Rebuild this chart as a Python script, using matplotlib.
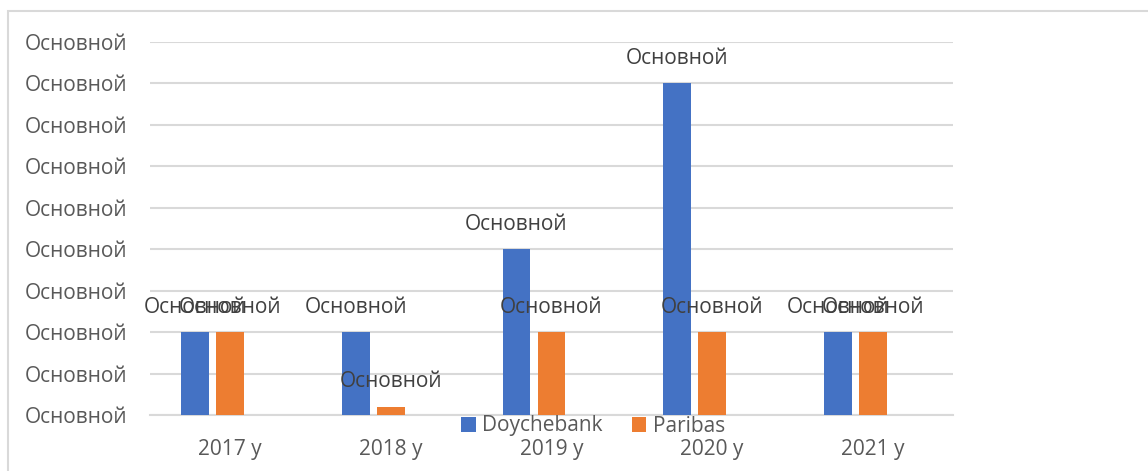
import matplotlib.pyplot as plt
import numpy as np
from matplotlib.patches import Rectangle

# data (y tick labels are all the same broken format string)
years = ["2017 у", "2018 у", "2019 у", "2020 у", "2021 у"]
doychebank = [2, 2, 4, 8, 2]
paribas = [2, 0.2, 2, 2, 2]
y_ticks = list(range(10))
tick_label = "Основной"

blue = "#4472C4"
orange = "#ED7D31"
grey_text = "#595959"

plt.rcParams['font.family'] = ['Open Sans', 'DejaVu Sans']

fig = plt.figure(figsize=(11.48, 4.71), dpi=100)
ax = fig.add_axes([150/1148, 56/471, (953-150)/1148, (415-42)/471])

# frame round the whole chart
fig.patches.append(Rectangle((8/1148, -0.1), 1.2, (471-11)/471 + 0.1, transform=fig.transFigure,
                             fill=False, edgecolor="#d9d9d9", linewidth=1.5))

x = np.arange(len(years))
w = 0.174
step = 0.218  # three slots per year, third series is empty

b1 = ax.bar(x - step, doychebank, w, color=blue, label="Doychebank", zorder=3)
b2 = ax.bar(x, paribas, w, color=orange, label="Paribas", zorder=3)

for bars in (b1, b2):
    for r in bars:
        ax.annotate(tick_label, (r.get_x() + r.get_width()/2, r.get_height()),
                    xytext=(0, 18), textcoords="offset points",
                    ha="center", va="center", fontsize=15, color="#404040")

ax.set_xlim(-0.5, len(years) - 0.5)
ax.set_ylim(0, 9)
ax.set_yticks(y_ticks)
ax.set_yticklabels([tick_label] * len(y_ticks), fontsize=15, color=grey_text)
ax.set_xticks(x)
ax.set_xticklabels(years, fontsize=15, color=grey_text)
ax.tick_params(axis="y", length=0, pad=16)
ax.tick_params(axis="x", length=0, pad=17)
ax.grid(axis="y", color="#d9d9d9", linewidth=1.5, zorder=0)
for s in ["top", "right", "left"]:
    ax.spines[s].set_visible(False)
ax.spines["bottom"].set_color("#d9d9d9")
ax.spines["bottom"].set_linewidth(1.5)

fig.legend(handles=[b1, b2], loc="center", bbox_to_anchor=(593/1148, 45/471),
           ncol=2, frameon=False, fontsize=15, labelcolor=grey_text,
           handlelength=0.7, handleheight=0.7, handletextpad=0.3, columnspacing=1.4)

plt.savefig("out.png", dpi=100)
